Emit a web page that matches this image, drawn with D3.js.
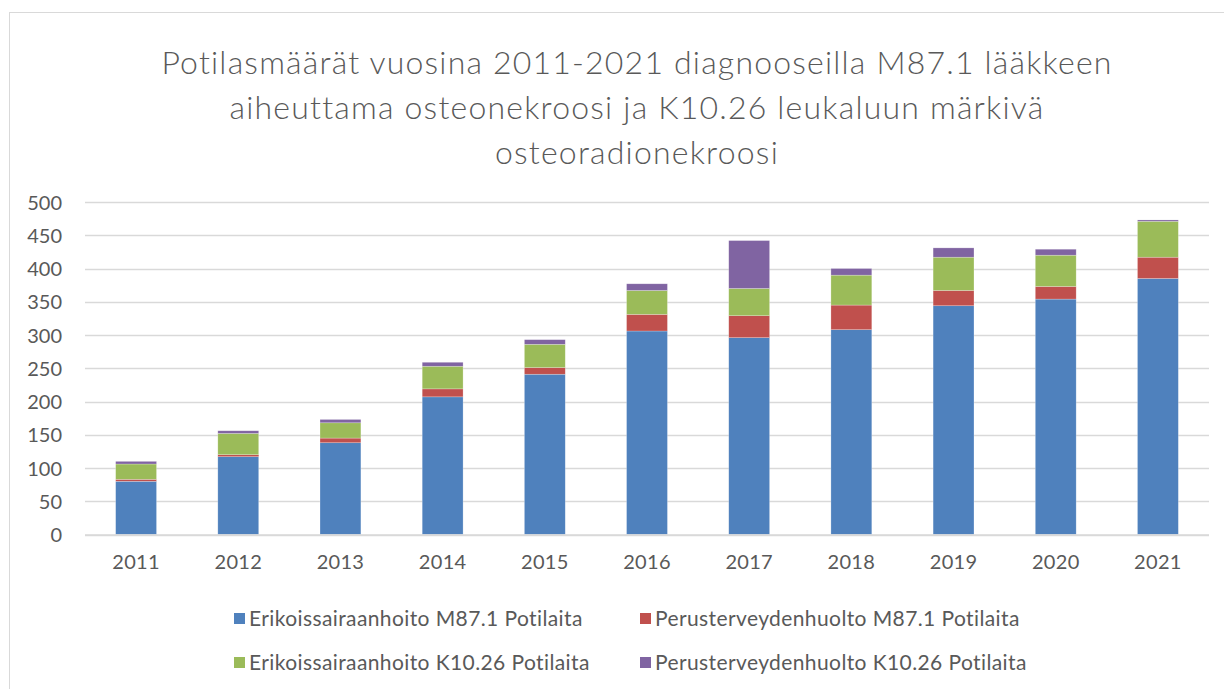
<!DOCTYPE html>
<html>
<head>
<meta charset="utf-8">
<script src="https://cdn.jsdelivr.net/npm/d3@7"></script>
<style>
  body { margin: 0; background: #fff; }
  text { font-family: Lato, "Open Sans", sans-serif; fill: #595959; }
</style>
</head>
<body>
<div id="chart"></div>
<script>
// data
var years = ["2011","2012","2013","2014","2015","2016","2017","2018","2019","2020","2021"];
var erikM87 = [80, 117, 138, 207, 241, 306, 296, 308, 344, 354, 385];
var perusM87 = [3, 3, 7, 12, 10, 25, 33, 37, 23, 19, 32];
var erikK10 = [23, 32, 23, 34, 35, 36, 41, 45, 50, 47, 54];
var perusK10 = [4, 4, 5, 6, 7, 10, 72, 10, 14, 9, 2];
var seriesNames = ["Erikoissairaanhoito M87.1 Potilaita", "Perusterveydenhuolto M87.1 Potilaita",
                   "Erikoissairaanhoito K10.26 Potilaita", "Perusterveydenhuolto K10.26 Potilaita"];
var colors = ["#4f81bd", "#c0504d", "#9bbb59", "#8064a2"];
var yTicks = [0, 50, 100, 150, 200, 250, 300, 350, 400, 450, 500];
var titleLines = ["Potilasmäärät vuosina 2011-2021 diagnooseilla M87.1 lääkkeen",
                  "aiheuttama osteonekroosi ja K10.26 leukaluun märkivä",
                  "osteoradionekroosi"];

var w = 1224
var h = 689

var svg = d3.select("#chart")
    .append("svg")
    .attr("width", w)
    .attr("height", h)

// chart frame
svg.append("rect")
    .attr("x", 9.5)
    .attr("y", 12.5)
    .attr("width", w + 20)
    .attr("height", h + 20)
    .attr("fill", "none")
    .attr("stroke", "#d9d9d9")

// title
svg.append("g").selectAll("text")
    .data(titleLines)
    .enter().append("text")
    .attr("x", 637)
    .attr("y", (d, i) => 74 + i * 45)
    .attr("text-anchor", "middle")
    .style("font-size", "32px")
    .style("font-weight", 300)
    .style("letter-spacing", "1.2px")
    .text(d => d)

var table = years.map((y, i) => ({year: y, s0: erikM87[i], s1: perusM87[i], s2: erikK10[i], s3: perusK10[i]}))
var stack = d3.stack().keys(["s0","s1","s2","s3"])(table)

var x = d3.scaleBand()
    .domain(years)
    .range([85, 1209])
    .paddingInner(0.6)
    .paddingOuter(0.3)

var y = d3.scaleLinear()
    .domain([0, 500])
    .range([534.5, 202])

// gridlines
svg.append("g").selectAll("line")
    .data(yTicks)
    .enter().append("line")
    .attr("x1", 85)
    .attr("x2", 1209)
    .attr("y1", d => Math.round(y(d)) + 0.5)
    .attr("y2", d => Math.round(y(d)) + 0.5)
    .attr("stroke", "#d9d9d9")
    .attr("stroke-width", 1.3)

// y axis labels
var yAxis = svg.append("g")
    .attr("transform", "translate(85,0)")
    .call(d3.axisLeft(y).tickValues(yTicks).tickSize(0).tickPadding(23))
yAxis.select(".domain").remove()
yAxis.selectAll("text")
    .style("font-size", "20px")
    .style("font-family", "Lato, sans-serif")
    .attr("fill", "#595959")
    .attr("dy", "0.35em")

// bars
svg.append("g").selectAll("g")
    .data(stack)
    .enter().append("g")
    .attr("fill", (d, i) => colors[i])
    .selectAll("rect")
    .data(d => d)
    .enter().append("rect")
    .attr("x", d => x(d.data.year))
    .attr("width", x.bandwidth())
    .attr("y", d => y(d[1]))
    .attr("height", d => y(d[0]) - y(d[1]))
    .attr("stroke", "#ffffff")
    .attr("stroke-opacity", 0.4)
    .attr("stroke-width", 0.6)

// x axis
svg.append("line")
    .attr("x1", 85)
    .attr("x2", 1209)
    .attr("y1", 535)
    .attr("y2", 535)
    .attr("stroke", "#d9d9d9")
    .attr("stroke-width", 1.3)

var xAxis = svg.append("g")
    .attr("transform", "translate(0,535)")
    .call(d3.axisBottom(x).tickSize(0).tickPadding(20))
xAxis.select(".domain").remove()
xAxis.selectAll("text")
    .style("font-size", "20px")
    .style("letter-spacing", "0.3px")
    .style("font-family", "Lato, sans-serif")
    .attr("fill", "#595959")

// legend
var legendPos = [[234, 619], [640, 619], [234, 663], [640, 663]]
var legend = svg.append("g").selectAll("g")
    .data(seriesNames)
    .enter().append("g")
    .attr("transform", (d, i) => "translate(" + legendPos[i][0] + "," + legendPos[i][1] + ")")

legend.append("rect")
    .attr("x", 0)
    .attr("y", -6)
    .attr("width", 11)
    .attr("height", 11)
    .attr("fill", (d, i) => colors[i])

legend.append("text")
    .attr("x", 15)
    .attr("y", 0)
    .attr("dy", "0.35em")
    .style("font-size", "21px")
    .style("letter-spacing", "0.4px")
    .text(d => d)
</script>
</body>
</html>
